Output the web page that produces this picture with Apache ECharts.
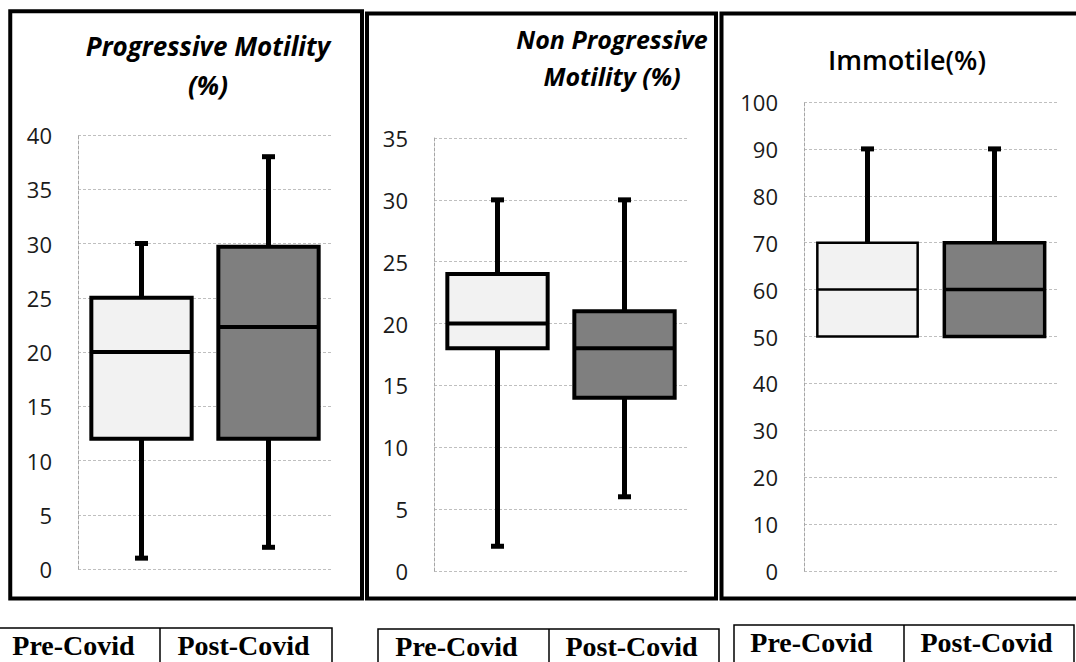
<!DOCTYPE html>
<html>
<head>
<meta charset="utf-8">
<script src="https://cdn.jsdelivr.net/npm/echarts@6/dist/echarts.min.js"></script>
<style>
html,body{margin:0;padding:0;background:#fff;}
#chart{width:1076px;height:662px;}
</style>
</head>
<body>
<div id="chart"></div>
<script>
// ---- data ----
const categories = ['Pre-Covid', 'Post-Covid'];
// [min, Q1, median, Q3, max]
const progressive = [[1, 12, 20, 25, 30], [2, 12, 22.3, 29.7, 38]];
const nonProgressive = [[2, 18, 20, 24, 30], [6, 14, 18, 21, 30]];
const immotile = [[50, 50, 60, 70, 90], [50, 50, 60, 70, 90]];
const panelTitles = ['Progressive Motility\n(%)', 'Non Progressive\nMotility (%)', 'Immotile(%)'];
const yMax = [40, 35, 100];
const yStep = [5, 5, 10];

// ---- styles ----
const fills = ['#f2f2f2', '#7f7f7f'];
const panelDefs = [
  {grid: {left: 78, top: 135, width: 254, height: 434}, data: progressive, border: [4, 4]},
  {grid: {left: 434, top: 138, width: 254, height: 433}, data: nonProgressive, border: [4, 4]},
  {grid: {left: 804, top: 102, width: 254, height: 469}, data: immotile, border: [2.5, 3.5]}
];

function makeRender(borders) {
  return function (params, api) {
    const ci = api.value(0);
    const mn = api.value(1), q1 = api.value(2), md = api.value(3), q3 = api.value(4), mx = api.value(5);
    const pMin = api.coord([ci, mn]), pQ1 = api.coord([ci, q1]), pMd = api.coord([ci, md]);
    const pQ3 = api.coord([ci, q3]), pMax = api.coord([ci, mx]);
    const cx = pMax[0];
    const bw = api.size([1, 0])[0] * 0.79;
    const bwid = borders[ci];
    const ch = [];
    if (mx > q3) {
      ch.push({type: 'line', shape: {x1: cx, y1: pMax[1], x2: cx, y2: pQ3[1]}, style: {stroke: '#000', lineWidth: 5}});
      ch.push({type: 'rect', shape: {x: cx - 6.5, y: pMax[1] - 2.5, width: 13, height: 5}, style: {fill: '#000'}});
    }
    if (mn < q1) {
      ch.push({type: 'line', shape: {x1: cx, y1: pQ1[1], x2: cx, y2: pMin[1]}, style: {stroke: '#000', lineWidth: 5}});
      ch.push({type: 'rect', shape: {x: cx - 6.5, y: pMin[1] - 2.5, width: 13, height: 5}, style: {fill: '#000'}});
    }
    ch.push({type: 'rect', shape: {x: cx - bw / 2, y: pQ3[1], width: bw, height: pQ1[1] - pQ3[1]},
      style: {fill: fills[ci], stroke: '#000', lineWidth: bwid}});
    ch.push({type: 'line', shape: {x1: cx - bw / 2, y1: pMd[1], x2: cx + bw / 2, y2: pMd[1]},
      style: {stroke: '#000', lineWidth: bwid}});
    return {type: 'group', children: ch};
  };
}

const grids = [], xAxes = [], yAxes = [], series = [];
panelDefs.forEach(function (p, i) {
  grids.push(Object.assign({containLabel: false}, p.grid));
  xAxes.push({type: 'category', gridIndex: i, data: categories, boundaryGap: true,
    axisLabel: {show: false}, axisTick: {show: false}, axisLine: {show: false}, splitLine: {show: false}});
  yAxes.push({type: 'value', gridIndex: i, min: 0, max: yMax[i], interval: yStep[i],
    axisLine: {show: true, lineStyle: {color: '#a6a6a6', type: [3, 2], width: 1}},
    axisTick: {show: false},
    axisLabel: {margin: 26, color: '#1a1a1a', fontFamily: 'Open Sans', fontSize: 22},
    splitLine: {show: true, lineStyle: {color: '#bfbfbf', type: [3, 2], width: 1}}});
  series.push({type: 'custom', xAxisIndex: i, yAxisIndex: i,
    data: p.data.map(function (d, k) { return [k].concat(d); }),
    encode: {x: 0, y: [1, 2, 3, 4, 5]},
    renderItem: makeRender(p.border), silent: true, animation: false});
});

const titles = [
  {text: panelTitles[0], left: 203, top: 21, textAlign: 'center',
    textStyle: {fontFamily: 'Open Sans', fontStyle: 'italic', fontWeight: 'bold', fontSize: 26, lineHeight: 39, color: '#000'}},
  {text: panelTitles[1], left: 607, top: 15, textAlign: 'center',
    textStyle: {fontFamily: 'Open Sans', fontStyle: 'italic', fontWeight: 'bold', fontSize: 25, lineHeight: 37, color: '#000'}},
  {text: panelTitles[2], left: 902, top: 41, textAlign: 'center',
    textStyle: {fontFamily: 'Open Sans', fontWeight: 600, fontSize: 27, color: '#000'}}
];

const graphics = [
  {type: 'rect', shape: {x: 10.25, y: 11.25, width: 351.75, height: 587.25}, style: {fill: 'none', stroke: '#000', lineWidth: 4}},
  {type: 'rect', shape: {x: 367, y: 13.5, width: 349, height: 585}, style: {fill: 'none', stroke: '#000', lineWidth: 4}},
  {type: 'rect', shape: {x: 721.5, y: 13.5, width: 370, height: 585}, style: {fill: 'none', stroke: '#000', lineWidth: 4}}
];
const tables = [
  {left: -1, mid: 160, right: 332, top: 628, tx: [73.5, 243.5]},
  {left: 378, mid: 549, right: 719, top: 629, tx: [456.5, 631.5]},
  {left: 734, mid: 904, right: 1074, top: 625, tx: [811.5, 986.5]}
];
tables.forEach(function (t) {
  graphics.push({type: 'rect', shape: {x: t.left, y: t.top, width: t.right - t.left, height: 60}, style: {fill: 'none', stroke: '#000', lineWidth: 1.5}});
  graphics.push({type: 'line', shape: {x1: t.mid, y1: t.top, x2: t.mid, y2: 700}, style: {stroke: '#000', lineWidth: 1.5}});
  categories.forEach(function (c, k) {
    graphics.push({type: 'text', x: t.tx[k], y: t.top + 17, style: {text: c, textAlign: 'center', textVerticalAlign: 'middle',
      font: 'bold 28px "Liberation Serif"', lineHeight: 26, fill: '#000'}});
  });
});

const chart = echarts.init(document.getElementById('chart'), null, {renderer: 'svg'});
chart.setOption({
  animation: false,
  backgroundColor: '#fff',
  title: titles,
  grid: grids,
  xAxis: xAxes,
  yAxis: yAxes,
  series: series,
  graphic: graphics
});
</script>
</body>
</html>
